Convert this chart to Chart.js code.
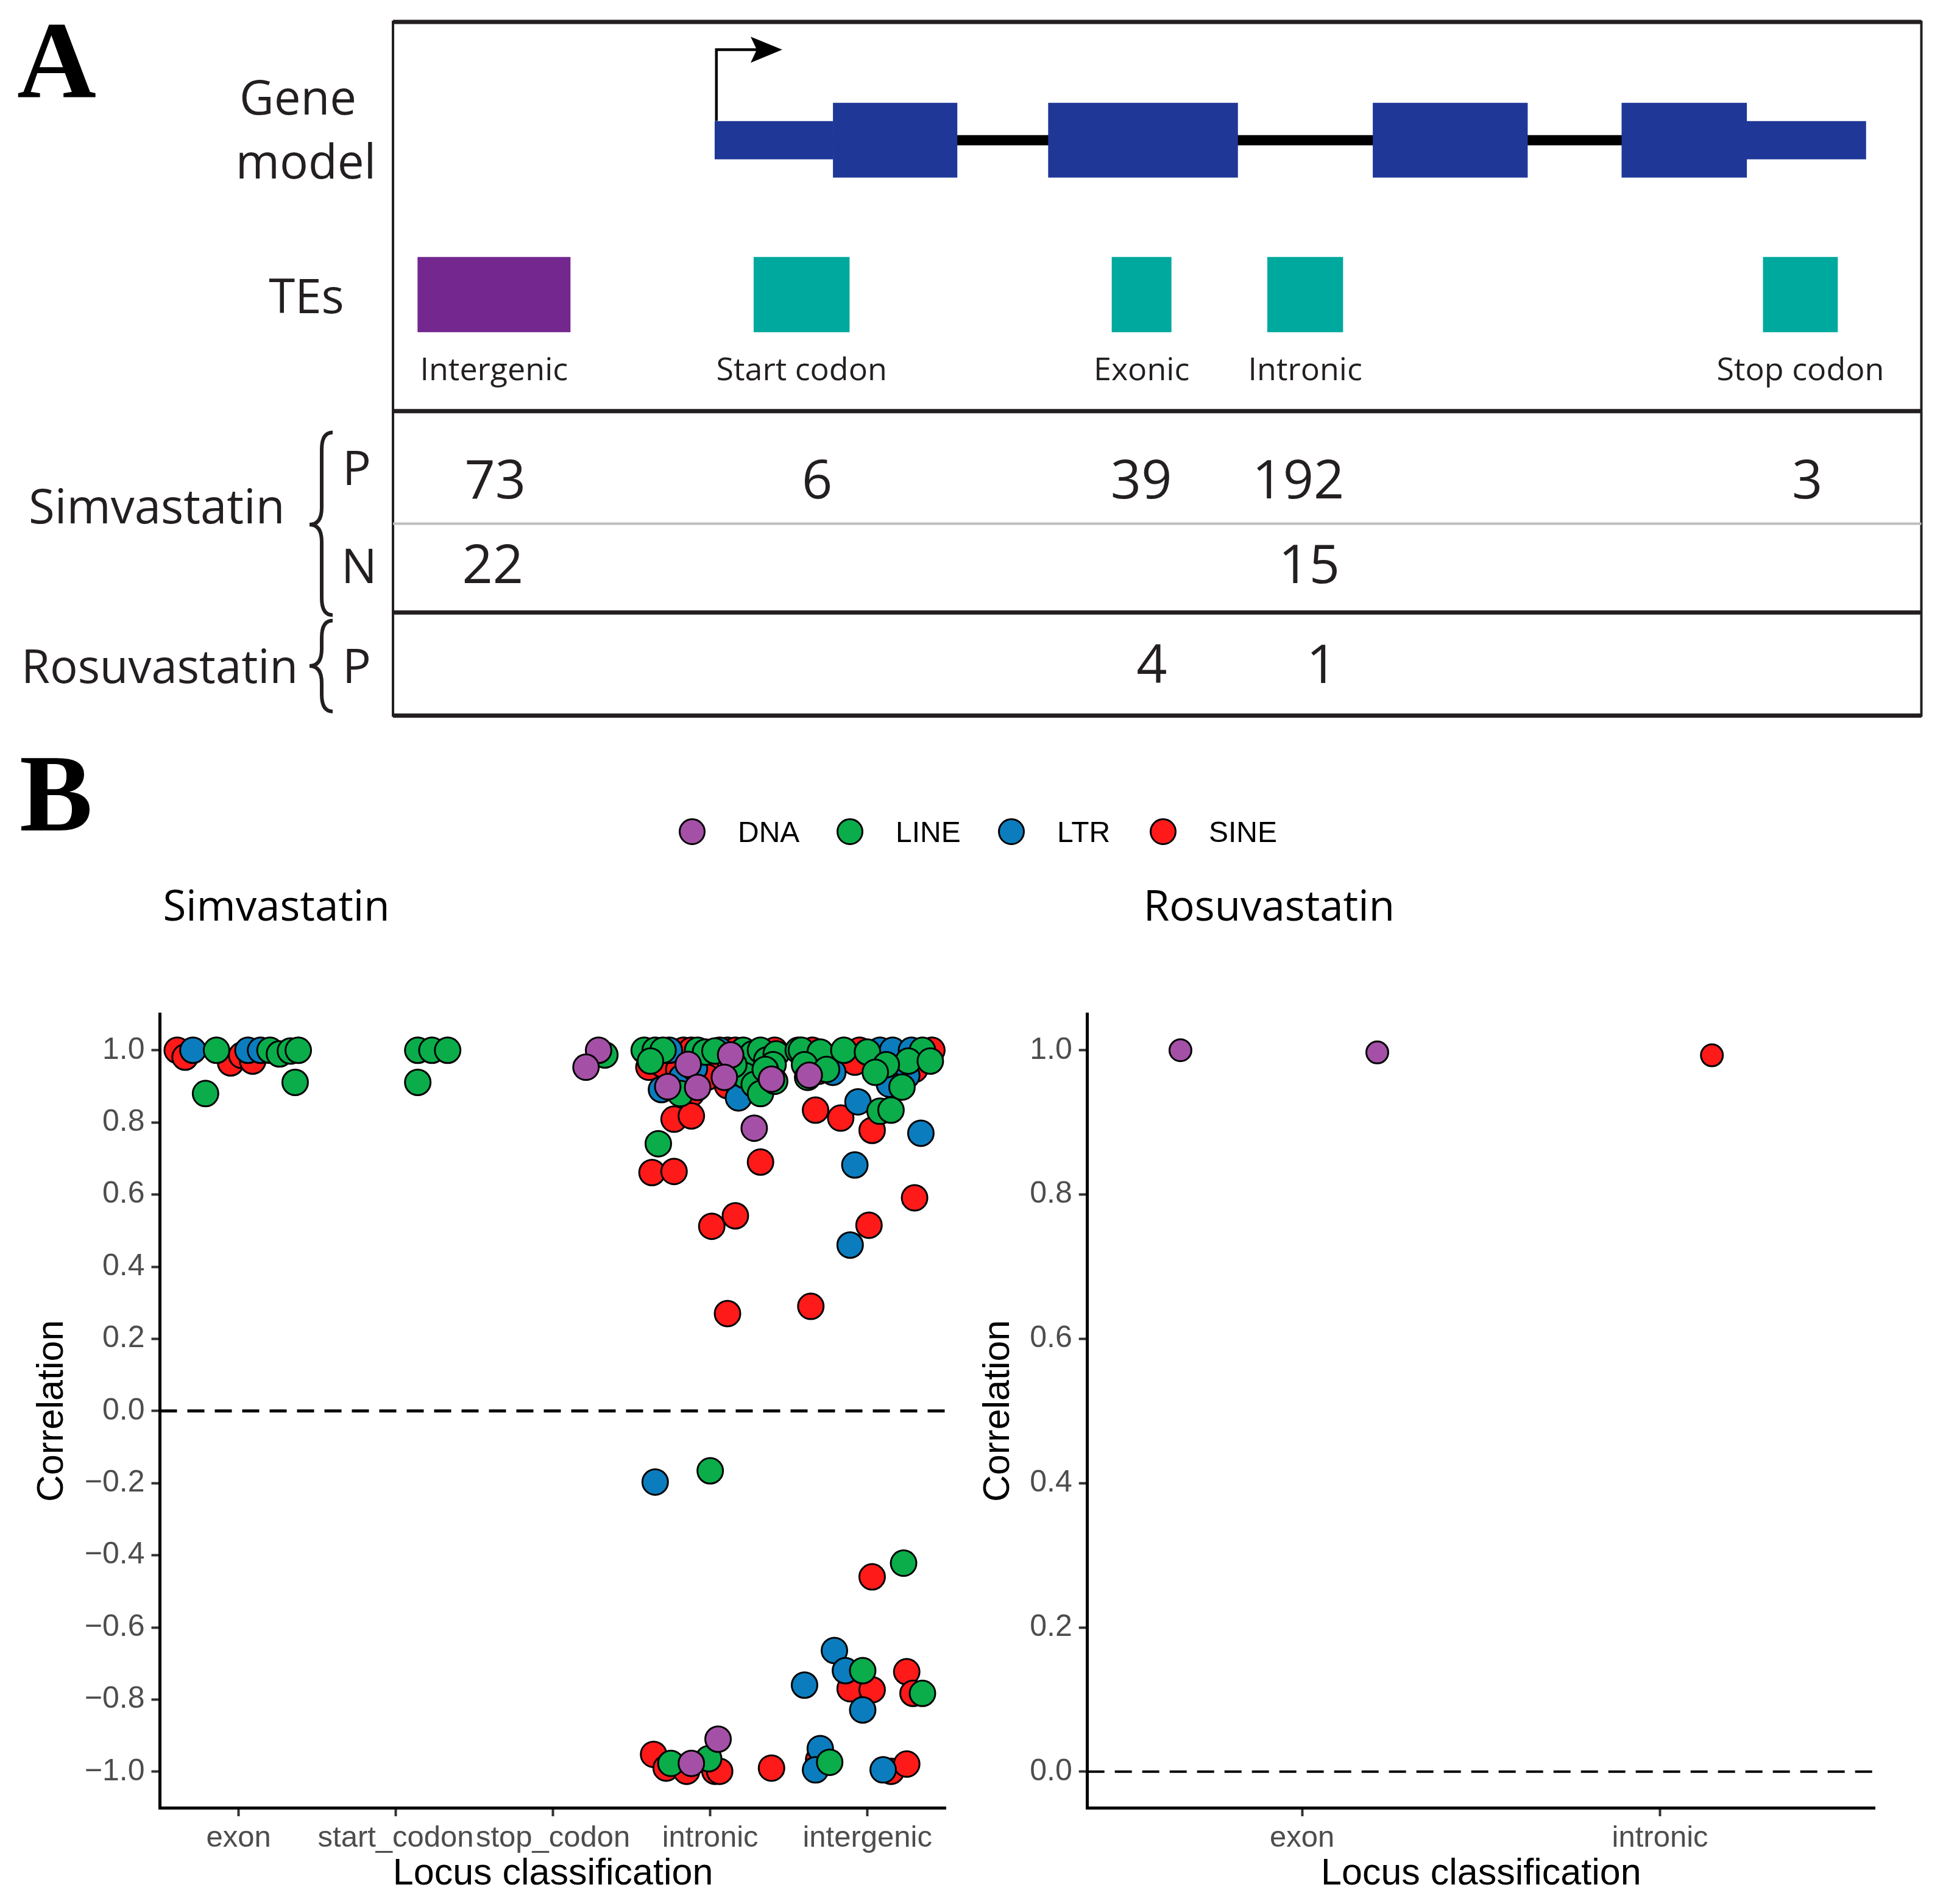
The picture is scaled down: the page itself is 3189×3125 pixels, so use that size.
<!DOCTYPE html>
<html>
<head>
<meta charset="utf-8">
<title>TE loci and correlation</title>
<script src="https://cdn.jsdelivr.net/npm/chart.js@4.4.1/dist/chart.umd.min.js"></script>
<style>
  body { margin: 0; background: #fff; }
  #page { position: relative; width: 3189px; height: 3125px; background: #fff; overflow: hidden; }
  canvas { position: absolute; }
  #legend { position: absolute; left: 0; top: 1330px; width: 3189px; height: 70px;
            font: 48px "Liberation Sans", Arial, sans-serif; color: #000; }
  #legend .item { position: absolute; top: 0; height: 70px; display: flex; align-items: center; }
  #legend .dot { width: 38px; height: 38px; border: 3px solid #000; border-radius: 50%; margin-right: 53px; }
</style>
</head>
<body>
<div id="page">
  <canvas id="panelA" width="3189" height="1200" style="left:0;top:0"></canvas>
  <canvas id="simChart" width="1560" height="1925" style="left:0;top:1200px"></canvas>
  <canvas id="rosChart" width="1629" height="1925" style="left:1560px;top:1200px"></canvas>
  <div id="legend"></div>
</div>
<script>
//------------- DATA -----------------

// panel A, gene model in relative gene units (0 - 1000 across the box)
const utrStart = [210.6, 885.7];
const utrEnd = [288.0, 963.7];
const exonStart = [288.0, 428.8, 641.2, 804.0];
const exonEnd = [369.1, 552.7, 742.3, 885.7];

const teLabels = ['Intergenic', 'Start codon', 'Exonic', 'Intronic', 'Stop codon'];
const teStart = [16.2, 236.1, 470.4, 572.2, 896.5];
const teEnd = [116.0, 298.6, 509.2, 621.5, 945.2];

// TE counts per location (P / N)
const simP = [73, 6, 39, 192, 3];
const simN = [22, null, null, 15, null];
const rosP = [null, null, 4, 1, null];

// panel B
const teClasses = ['DNA', 'LINE', 'LTR', 'SINE'];
const simCats = ['exon', 'start_codon', 'stop_codon', 'intronic', 'intergenic'];
const rosCats = ['exon', 'intronic'];
const simTicks = [-1.0, -0.8, -0.6, -0.4, -0.2, 0.0, 0.2, 0.4, 0.6, 0.8, 1.0];
const rosTicks = [0.0, 0.2, 0.4, 0.6, 0.8, 1.0];

// [jittered category position, correlation]
const simDNA = [
  [3.29, 1.00], [3.21, 0.953],
  [3.86, 0.961], [3.73, 0.899], [3.92, 0.897], [4.13, 0.987], [4.09, 0.925], [4.39, 0.92], [4.28, 0.784],
  [4.05, -0.91], [3.88, -0.977],
  [4.63, 0.931]
];
const simLINE = [
  [0.86, 1.00], [1.20, 1.00], [1.26, 0.99], [1.33, 0.998], [1.38, 1.00], [0.79, 0.88], [1.36, 0.911],
  [2.14, 1.00], [2.23, 1.00], [2.33, 1.00], [2.14, 0.911],
  [3.33, 0.987],
  [3.58, 1.00], [3.65, 1.00], [3.70, 1.00], [3.92, 1.00], [3.97, 0.995], [4.03, 0.998], [4.21, 1.00],
  [4.27, 0.99], [4.32, 1.00], [4.36, 0.973], [4.42, 0.99], [3.62, 0.97], [4.22, 0.93], [4.40, 0.96],
  [3.81, 0.88], [4.15, 0.96], [4.28, 0.905], [4.32, 0.88], [4.41, 0.914], [4.35, 0.947], [3.67, 0.741],
  [4.00, -0.166], [3.75, -0.977], [3.99, -0.964],
  [4.56, 1.00], [4.58, 1.00], [4.70, 0.995], [4.85, 1.00], [5.00, 0.995], [5.35, 1.00], [5.26, 0.97],
  [4.60, 0.96], [5.12, 0.96], [5.40, 0.97],
  [4.62, 0.925], [4.74, 0.947], [5.05, 0.939], [5.22, 0.898], [5.08, 0.831], [5.15, 0.834],
  [4.97, -0.72], [5.35, -0.783], [5.23, -0.422], [4.76, -0.974]
];
const simLTR = [
  [0.71, 1.00], [1.06, 1.00], [1.14, 1.00],
  [3.74, 1.00], [4.06, 1.00], [4.24, 0.985], [3.69, 0.891], [3.82, 0.925], [3.90, 0.95], [4.18, 0.868],
  [3.65, -0.197],
  [5.08, 1.00], [5.16, 1.00], [5.28, 1.00], [4.78, 0.939], [5.18, 0.947], [5.25, 0.93], [5.14, 0.906], [4.94, 0.857],
  [5.34, 0.77], [4.92, 0.682], [4.89, 0.46],
  [4.60, -0.76], [4.79, -0.664], [4.86, -0.72], [4.97, -0.829], [4.70, -0.936], [4.67, -0.995], [5.10, -0.995]
];
const simSINE = [
  [0.61, 1.00], [0.66, 0.981], [0.95, 0.965], [1.02, 0.986], [1.09, 0.97],
  [3.83, 1.00], [3.88, 1.00], [4.11, 1.00], [4.16, 1.00], [4.41, 1.00],
  [3.61, 0.953], [3.70, 0.96], [3.80, 0.947], [3.93, 0.94], [3.97, 0.959], [3.98, 0.925], [3.88, 0.88],
  [4.11, 0.902], [4.18, 0.902], [4.25, 0.95],
  [3.77, 0.809], [3.88, 0.818], [3.63, 0.661], [3.77, 0.664], [4.32, 0.69], [4.01, 0.512], [4.16, 0.541], [4.11, 0.27],
  [3.64, -0.952], [3.72, -0.99], [3.85, -0.999], [4.03, -0.999], [4.06, -0.999], [4.39, -0.99],
  [4.65, 1.00], [4.95, 1.00], [5.20, 0.99], [5.41, 1.00], [4.69, 0.942], [4.80, 0.97], [4.92, 0.967], [5.31, 0.977], [5.30, 0.947],
  [4.67, 0.834], [4.83, 0.812], [5.03, 0.778], [5.30, 0.591], [5.01, 0.515], [4.64, 0.29],
  [4.89, -0.77], [5.03, -0.773], [5.25, -0.723], [5.29, -0.783], [5.03, -0.46], [4.69, -0.967], [5.15, -0.999], [5.25, -0.979]
];

const rosDNA = [[0.66, 1.00], [1.21, 0.997]];
const rosLINE = [];
const rosLTR = [];
const rosSINE = [[2.145, 0.993]];

const classColors = ['#a450a6', '#0aad4a', '#0b7dbe', '#ff1a1a'];
const exonColor = '#1f3797';
const teColors = ['#74288f', '#00a99d', '#00a99d', '#00a99d', '#00a99d'];
const ink = '#231f20';

// where the count labels sit in each table row (gene units), layout only
const simPX = [66.9, 277.5, 489.6, 592.3, 925.3];
const simNX = [65.3, null, null, 599.5, null];
const rosPX = [null, null, 496.5, 607.7, null];


//------------- PANEL A -----------------

const diagram = {
  id: 'diagram',
  afterDraw(chart) {
    const {ctx, chartArea: a, scales: {x, y}} = chart;
    const X = v => x.getPixelForValue(v);
    const Y = v => y.getPixelForValue(v);
    ctx.save();

    // frame and table rules
    ctx.strokeStyle = ink;
    ctx.lineWidth = 4;
    ctx.strokeRect(a.left, a.top, a.right - a.left, a.bottom - a.top);
    const rule = (v, c, w) => {
      ctx.strokeStyle = c; ctx.lineWidth = w;
      ctx.beginPath(); ctx.moveTo(a.left, Y(v)); ctx.lineTo(a.right, Y(v)); ctx.stroke();
    };
    rule(17.6, ink, 7);
    rule(331.5, ink, 7);
    rule(422.3, '#bdbdbd', 4);
    rule(493.9, ink, 7);
    rule(577, ink, 7);

    // transcription start arrow
    const tx = X(utrStart[0] + 1);
    ctx.strokeStyle = '#000'; ctx.fillStyle = '#000'; ctx.lineWidth = 4.5;
    ctx.beginPath(); ctx.moveTo(tx, Y(97.5)); ctx.lineTo(tx, Y(40)); ctx.lineTo(X(238), Y(40)); ctx.stroke();
    ctx.beginPath();
    ctx.moveTo(X(254.7), Y(40)); ctx.lineTo(X(234), Y(29.5)); ctx.lineTo(X(238), Y(40)); ctx.lineTo(X(234), Y(50.5));
    ctx.closePath(); ctx.fill();

    // TE labels and counts
    ctx.fillStyle = ink;
    ctx.textAlign = 'center'; ctx.textBaseline = 'alphabetic';
    ctx.font = '52px "Open Sans"';
    teLabels.forEach((t, i) => ctx.fillText(t, X((teStart[i] + teEnd[i]) / 2), Y(306.5)));
    ctx.font = '88px "Open Sans"';
    [[simP, simPX, 402], [simN, simNX, 470], [rosP, rosPX, 551]].forEach(([row, pos, base]) => {
      row.forEach((n, i) => {
        if (n !== null) ctx.fillText(String(n), X(pos[i]), Y(base));
      });
    });

    // row labels on the left
    ctx.font = '78px "Open Sans"';
    ctx.fillText('Gene', 489, Y(92.1));
    ctx.fillText('model', 502, Y(143.7));
    ctx.fillText('TEs', 503, Y(252.3));
    ctx.textAlign = 'left';
    ctx.fillText('Simvastatin', 47, Y(422));
    ctx.font = '76px "Open Sans"';
    ctx.fillText('Rosuvastatin', 35, Y(551));
    ctx.font = '78px "Open Sans"';
    ctx.fillText('P', 562, Y(391));
    ctx.fillText('N', 560, Y(470));
    ctx.fillText('P', 562, Y(551));

    // braces
    const brace = (top, mid, bot) => {
      const xt = 508, xs = 528, xe = 546, r = 28;
      ctx.beginPath();
      ctx.moveTo(xe, top);
      ctx.quadraticCurveTo(xs, top, xs, top + r);
      ctx.lineTo(xs, mid - r);
      ctx.quadraticCurveTo(xs, mid, xt, mid);
      ctx.quadraticCurveTo(xs, mid, xs, mid + r);
      ctx.lineTo(xs, bot - r);
      ctx.quadraticCurveTo(xs, bot, xe, bot);
      ctx.stroke();
    };
    ctx.strokeStyle = ink; ctx.lineWidth = 6;
    brace(Y(348.7), Y(423), Y(496));
    brace(Y(500.4), Y(537), Y(573.7));

    // panel tag
    ctx.fillStyle = '#000';
    ctx.font = 'bold 180px "Liberation Serif"';
    ctx.fillText('A', 28, 159);
    ctx.restore();
  }
};

function drawPanelA() {
  const geneRow = 113, teRow = 237.5;
  new Chart(document.getElementById('panelA'), {
    type: 'bar',
    data: {
      datasets: [
        {label: 'exons', data: exonStart.map((s, i) => ({x: [s, exonEnd[i]], y: geneRow})),
         backgroundColor: exonColor, barThickness: 122, maxBarThickness: 122},
        {label: 'UTR', data: utrStart.map((s, i) => ({x: [s, utrEnd[i]], y: geneRow})),
         backgroundColor: exonColor, barThickness: 62, maxBarThickness: 62},
        {label: 'introns', data: [{x: [exonStart[0], exonEnd[exonEnd.length - 1]], y: geneRow}],
         backgroundColor: '#000', barThickness: 16, maxBarThickness: 16},
        {label: 'TEs', data: teStart.map((s, i) => ({x: [s, teEnd[i]], y: teRow})),
         backgroundColor: teColors, barThickness: 123, maxBarThickness: 123}
      ]
    },
    options: {
      indexAxis: 'y',
      responsive: false,
      animation: false,
      events: [],
      layout: {autoPadding: false, padding: {left: 645, top: 36, right: 35.5, bottom: 25.6}},
      datasets: {bar: {grouped: false, borderWidth: 0}},
      scales: {
        x: {type: 'linear', min: 0, max: 1000, display: false},
        y: {type: 'linear', min: 17.6, max: 577, reverse: true, offset: false, display: false}
      },
      plugins: {legend: {display: false}, tooltip: {enabled: false}}
    },
    plugins: [diagram]
  });
}


//------------- PANEL B -----------------

const panelText = {
  id: 'panelText',
  afterDraw(chart, args, o) {
    const ctx = chart.ctx;
    ctx.save();
    ctx.fillStyle = '#000';
    ctx.textAlign = 'left';
    ctx.textBaseline = 'alphabetic';
    ctx.font = '69px "Open Sans"';
    ctx.fillText(o.title, chart.chartArea.left + o.dx, o.base);
    if (o.tag) {
      ctx.font = 'bold 180px "Liberation Serif"';
      ctx.fillText(o.tag, 32, o.tagBase);
    }
    ctx.restore();
  }
};

const fmt = v => (v < -1e-9 ? '\u2212' : '') + Math.abs(v).toFixed(1);
const axisGrid = () => ({drawOnChartArea: false, drawTicks: true, tickLength: 14, tickWidth: 4, tickColor: '#333'});
const axisBorder = () => ({display: true, color: '#000', width: 5});

function stripChart(id, cats, groups, xRange, yRange, yTicks, look) {
  const datasets = teClasses.map((name, i) => ({
    type: 'scatter',
    label: name,
    data: groups[i].map(p => ({x: p[0], y: p[1]})),
    backgroundColor: classColors[i],
    borderColor: '#000',
    borderWidth: 3,
    pointRadius: look.r,
    pointHoverRadius: look.r
  }));
  datasets.push({
    type: 'line',
    label: 'zero',
    data: [{x: xRange[0], y: 0}, {x: xRange[1], y: 0}],
    borderColor: '#000',
    borderWidth: look.dashW,
    borderDash: [28, 17],
    pointRadius: 0,
    fill: false
  });
  const tickFont = {family: '"Liberation Sans", Arial, sans-serif', size: 49};
  const titleFont = {family: '"Liberation Sans", Arial, sans-serif', size: 61};

  return new Chart(document.getElementById(id), {
    type: 'scatter',
    data: {datasets},
    options: {
      responsive: false,
      animation: false,
      events: [],
      layout: {autoPadding: false, padding: {top: 464.6, right: look.padRight, left: 0, bottom: 0}},
      plugins: {legend: {display: false}, tooltip: {enabled: false}, panelText: look.text},
      scales: {
        x: {
          type: 'linear', min: xRange[0], max: xRange[1],
          afterBuildTicks: s => { s.ticks = cats.map((c, i) => ({value: i + 1})); },
          afterFit: s => { s.height = 158; },
          ticks: {callback: (v, i) => cats[i], font: tickFont, color: '#4d4d4d', padding: 7, maxRotation: 0, autoSkip: false},
          grid: axisGrid(),
          border: axisBorder(),
          title: {display: true, text: 'Locus classification', font: titleFont, color: '#000', padding: {top: 0, bottom: 12}}
        },
        y: {
          type: 'linear', min: yRange[0], max: yRange[1],
          afterBuildTicks: s => { s.ticks = yTicks.map(v => ({value: v})); },
          afterFit: s => { s.width = look.yAxisW; },
          ticks: {callback: v => fmt(v), font: {family: tickFont.family, size: 50}, color: '#4d4d4d', padding: 11},
          grid: axisGrid(),
          border: axisBorder(),
          title: {display: true, text: 'Correlation', font: titleFont, color: '#000', padding: {top: look.yTitlePad, bottom: 0}}
        }
      }
    },
    plugins: [panelText]
  });
}

function drawLegend() {
  const box = document.getElementById('legend');
  const lefts = [1114, 1373, 1638, 1887];
  teClasses.forEach((name, i) => {
    const item = document.createElement('div');
    item.className = 'item';
    item.style.left = lefts[i] + 'px';
    const dot = document.createElement('span');
    dot.className = 'dot';
    dot.style.background = classColors[i];
    const label = document.createElement('span');
    label.textContent = name;
    item.appendChild(dot);
    item.appendChild(label);
    box.appendChild(item);
  });
}

function drawAll() {
  drawPanelA();
  stripChart('simChart', simCats, [simDNA, simLINE, simLTR, simSINE], [0.5, 5.5], [-1.1, 1.1], simTicks,
    {r: 21, dashW: 5, padRight: 7.3, yAxisW: 262.5, yTitlePad: 50,
     text: {title: 'Simvastatin', dx: 5, base: 311, tag: 'B', tagBase: 163}});
  stripChart('rosChart', rosCats, [rosDNA, rosLINE, rosLTR, rosSINE], [0.4, 2.6], [-0.05, 1.05], rosTicks,
    {r: 18, dashW: 4, padRight: 112, yAxisW: 224.7, yTitlePad: 42.5,
     text: {title: 'Rosuvastatin', dx: 92, base: 311}});
  drawLegend();
}

Promise.all(['78px "Open Sans"', '49px "Liberation Sans"', 'bold 180px "Liberation Serif"']
  .map(f => document.fonts.load(f))).then(drawAll, drawAll);
</script>
</body>
</html>
